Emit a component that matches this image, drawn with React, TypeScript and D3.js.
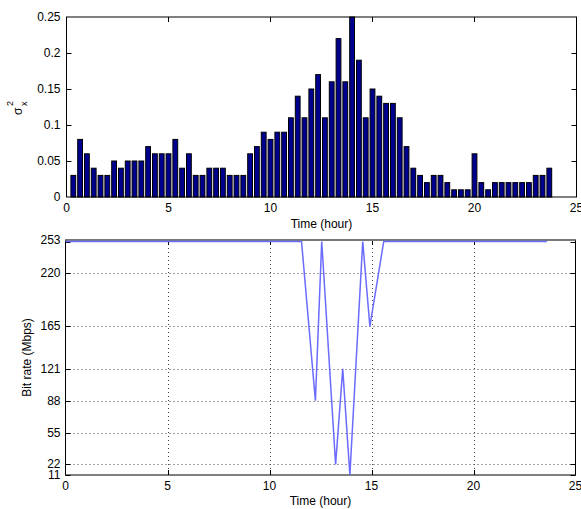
import React from "react";
import * as d3 from "d3";

// ---- data ----
// variance per 20-minute slot (slot k centred at k/3 hour)
const varianceValues: number[] = [
  0.03, 0.08, 0.06, 0.04, 0.03, 0.03, 0.05, 0.04, 0.05, 0.05,
  0.05, 0.07, 0.06, 0.06, 0.06, 0.08, 0.04, 0.06, 0.03, 0.03,
  0.04, 0.04, 0.04, 0.03, 0.03, 0.03, 0.06, 0.07, 0.09, 0.08,
  0.09, 0.09, 0.11, 0.14, 0.11, 0.15, 0.17, 0.11, 0.16, 0.22,
  0.16, 0.25, 0.19, 0.11, 0.15, 0.14, 0.13, 0.13, 0.11, 0.07,
  0.04, 0.03, 0.02, 0.03, 0.03, 0.02, 0.01, 0.01, 0.01, 0.06,
  0.02, 0.01, 0.02, 0.02, 0.02, 0.02, 0.02, 0.02, 0.03, 0.03,
  0.04,
];
const slotsPerHour = 3;

const rateTimes: number[] = [0, 11.57, 12.25, 12.56, 13.24, 13.59, 13.94, 14.57, 14.92, 15.6, 23.6];
const rateValues: number[] = [253, 253, 88, 253, 22, 121, 11, 253, 165, 253, 253];

const xTicks: number[] = [0, 5, 10, 15, 20, 25];
const topYTicks: number[] = [0, 0.05, 0.1, 0.15, 0.2, 0.25];
const topYLabels: string[] = ["0", "0.05", "0.1", "0.15", "0.2", "0.25"];
const bottomYTicks: number[] = [11, 22, 55, 88, 121, 165, 220, 253];

const FONT = "'Liberation Sans', Arial, Helvetica, sans-serif";
const FS = 12;

export default function App() {
  const W = 581, H = 509;

  // top panel
  const tL = 66.5, tR = 576.5, tT = 17, tB = 197;
  const xt = d3.scaleLinear().domain([0, 25]).range([tL, tR]);
  const yt = d3.scaleLinear().domain([0, 0.25]).range([tB, tT]);
  const step = xt(1 / slotsPerHour) - xt(0);

  // bottom panel
  const bL = 65.5, bR = 575.5, bT = 240, bB = 475;
  const xb = d3.scaleLinear().domain([0, 25]).range([bL, bR]);
  const yb = d3.scaleLinear().domain([11, 253]).range([bB, bT + 1.5]);

  const line = d3
    .line<number>()
    .x((_, i) => xb(rateTimes[i]))
    .y((d) => yb(d));

  const tick = 5;

  return (
    <svg width={W} height={H} style={{ position: "absolute", left: 0, top: 0, background: "#fff" }}>
      <rect x={0} y={0} width={W} height={H} fill="#fff" />
      {/* ---------- TOP PANEL ---------- */}
      <g>
        {/* ticks inside */}
        {xTicks.slice(1, -1).map((t) => (
          <g key={"tx" + t}>
            <line x1={xt(t)} x2={xt(t)} y1={tT} y2={tT + tick} stroke="#000" />
            <line x1={xt(t)} x2={xt(t)} y1={tB} y2={tB - tick} stroke="#000" />
          </g>
        ))}
        {topYTicks.slice(1, -1).map((t) => (
          <g key={"ty" + t}>
            <line x1={tL} x2={tL + tick} y1={Math.round(yt(t)) + 0.5} y2={Math.round(yt(t)) + 0.5} stroke="#000" />
            <line x1={tR} x2={tR - tick} y1={Math.round(yt(t)) + 0.5} y2={Math.round(yt(t)) + 0.5} stroke="#000" />
          </g>
        ))}
        {varianceValues.map((v, i) => {
          const c = xt((i + 1) / slotsPerHour);
          return (
            <rect
              key={"b" + i}
              x={c - step / 2 + 1}
              y={yt(v)}
              width={step - 2}
              height={yt(0) - yt(v)}
              fill="#00008f"
              stroke="#000"
              strokeWidth={1}
            />
          );
        })}
        <rect x={tL} y={tT} width={tR - tL} height={tB - tT} fill="none" stroke="#000" strokeWidth={1} />
        {xTicks.map((t) => (
          <text key={"txl" + t} x={xt(t)} y={tB + 15} textAnchor="middle" fontFamily={FONT} fontSize={FS}>
            {t}
          </text>
        ))}
        {topYTicks.map((t, i) => (
          <text key={"tyl" + t} x={tL - 6} y={yt(t) + 4} textAnchor="end" fontFamily={FONT} fontSize={FS}>
            {topYLabels[i]}
          </text>
        ))}
        <text x={(tL + tR) / 2} y={tB + 31} textAnchor="middle" fontFamily={FONT} fontSize={FS}>
          Time (hour)
        </text>
        <g transform="translate(22,111) rotate(-90)" fontFamily={FONT}>
          <text x={-4} y={0} fontSize={FS}>σ</text>
          <text x={5} y={-9} fontSize={9}>2</text>
          <text x={5} y={5} fontSize={9}>x</text>
        </g>
      </g>

      {/* ---------- BOTTOM PANEL ---------- */}
      <g>
        {xTicks.slice(1, -1).map((t) => (
          <g key={"gx" + t}>
            <line x1={Math.round(xb(t)) + 0.5} x2={Math.round(xb(t)) + 0.5} y1={bT} y2={bB} stroke="#444" strokeDasharray="1 3" />
            <line x1={Math.round(xb(t)) + 0.5} x2={Math.round(xb(t)) + 0.5} y1={bT} y2={bT + tick} stroke="#000" />
            <line x1={Math.round(xb(t)) + 0.5} x2={Math.round(xb(t)) + 0.5} y1={bB} y2={bB - tick} stroke="#000" />
          </g>
        ))}
        {bottomYTicks.map((t) => {
          const y = Math.round(yb(t)) + 0.5;
          return (
            <g key={"gy" + t}>
              {t !== 11 && t !== 253 && (
                <line x1={bL} x2={bR} y1={y} y2={y} stroke="#444" strokeDasharray="1 3" />
              )}
              <line x1={bL} x2={bL + tick} y1={y} y2={y} stroke="#000" />
              <line x1={bR} x2={bR - tick} y1={y} y2={y} stroke="#000" />
            </g>
          );
        })}
        <rect x={bL} y={bT} width={bR - bL} height={bB - bT} fill="none" stroke="#000" strokeWidth={1} />
        <line x1={bL} x2={bR} y1={bT} y2={bT} stroke="#777" strokeWidth={2} />
        <path d={line(rateValues) || ""} fill="none" stroke="#6b6bff" strokeWidth={1.5} />
        {xTicks.map((t) => (
          <text key={"bxl" + t} x={xb(t)} y={bB + 15} textAnchor="middle" fontFamily={FONT} fontSize={FS}>
            {t}
          </text>
        ))}
        {bottomYTicks.map((t) => (
          <text key={"byl" + t} x={bL - 5} y={(t === 253 ? bT : yb(t)) + 4} textAnchor="end" fontFamily={FONT} fontSize={FS}>
            {t}
          </text>
        ))}
        <text x={(bL + bR) / 2} y={bB + 30} textAnchor="middle" fontFamily={FONT} fontSize={FS}>
          Time (hour)
        </text>
        <text
          transform={`translate(31,${(bT + bB) / 2}) rotate(-90)`}
          textAnchor="middle"
          fontFamily={FONT}
          fontSize={FS}
        >
          Bit rate (Mbps)
        </text>
      </g>
    </svg>
  );
}
